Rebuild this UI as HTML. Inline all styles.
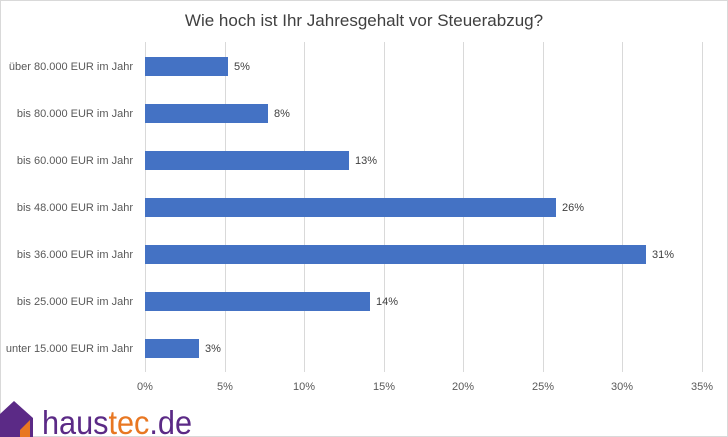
<!DOCTYPE html>
<html><head><meta charset="utf-8"><style>
html,body{margin:0;padding:0;background:#fff}
body{width:728px;height:437px;position:relative;overflow:hidden;font-family:"Liberation Sans",sans-serif}
</style></head><body>
<svg width="728" height="437" style="position:absolute;left:0;top:0" font-family="Liberation Sans, sans-serif">
<rect x="0.5" y="0.5" width="727" height="436" fill="#fff" stroke="#d9d9d9"/>
<text x="364" y="26" font-size="17" fill="#404040" text-anchor="middle">Wie hoch ist Ihr Jahresgehalt vor Steuerabzug?</text>
<g stroke="#d9d9d9" stroke-width="1">
<line x1="145.5" y1="42" x2="145.5" y2="372"/>
<line x1="225.5" y1="42" x2="225.5" y2="372"/>
<line x1="304.5" y1="42" x2="304.5" y2="372"/>
<line x1="384.5" y1="42" x2="384.5" y2="372"/>
<line x1="463.5" y1="42" x2="463.5" y2="372"/>
<line x1="543.5" y1="42" x2="543.5" y2="372"/>
<line x1="622.5" y1="42" x2="622.5" y2="372"/>
<line x1="702.5" y1="42" x2="702.5" y2="372"/>
</g>
<g font-size="11" fill="#595959" text-anchor="middle">
<text x="145" y="390">0%</text><text x="225" y="390">5%</text><text x="304" y="390">10%</text><text x="384" y="390">15%</text><text x="463" y="390">20%</text><text x="543" y="390">25%</text><text x="622" y="390">30%</text><text x="702" y="390">35%</text>
</g>
<g fill="#4472c4">
<rect x="145" y="57" width="83" height="19"/>
<rect x="145" y="104" width="123" height="19"/>
<rect x="145" y="151" width="204" height="19"/>
<rect x="145" y="198" width="411" height="19"/>
<rect x="145" y="245" width="501" height="19"/>
<rect x="145" y="292" width="225" height="19"/>
<rect x="145" y="339" width="54" height="19"/>
</g>
<g font-size="11" fill="#404040">
<text x="234" y="70">5%</text><text x="274" y="117">8%</text><text x="355" y="164">13%</text><text x="562" y="211">26%</text><text x="652" y="258">31%</text><text x="376" y="305">14%</text><text x="205" y="352">3%</text>
</g>
<g font-size="11" fill="#595959" text-anchor="end">
<text x="133" y="70">über 80.000 EUR im Jahr</text>
<text x="133" y="117">bis 80.000 EUR im Jahr</text>
<text x="133" y="164">bis 60.000 EUR im Jahr</text>
<text x="133" y="211">bis 48.000 EUR im Jahr</text>
<text x="133" y="258">bis 36.000 EUR im Jahr</text>
<text x="133" y="305">bis 25.000 EUR im Jahr</text>
<text x="133" y="352">unter 15.000 EUR im Jahr</text>
</g>
<polygon points="0,414 14,401 33,418 33,437 0,437" fill="#5b2a86"/>
<polygon points="20,430 30,420 30,437 20,437" fill="#e87722"/>
<text x="42" y="434" font-size="33" fill="#5b2a86" textLength="150" lengthAdjust="spacingAndGlyphs">haus<tspan fill="#e87722">tec</tspan>.de</text>
</svg>
</body></html>
